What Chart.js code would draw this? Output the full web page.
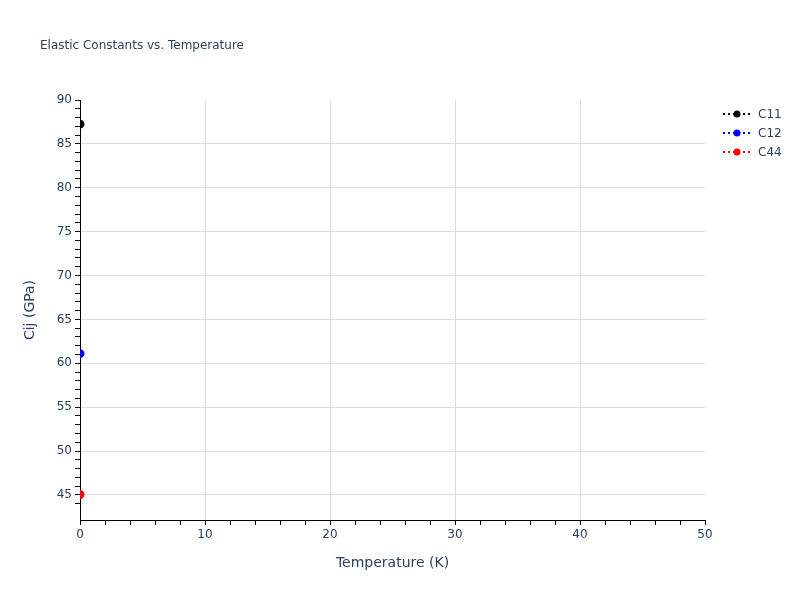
<!DOCTYPE html>
<html lang="en">

<head>
    <meta charset="UTF-8">
    <title>Elastic Constants vs. Temperature</title>
    <script src="https://cdn.jsdelivr.net/npm/chart.js"></script>
    <style>
        html, body { margin: 0; padding: 0; background: #fff; }
        #wrap { width: 800px; height: 600px; }
    </style>
</head>

<body>
    <div id="wrap"><canvas id="elasticChart" width="800" height="600"></canvas></div>
</body>
<script>
    // data
    const temperature = [0];
    const c11 = [87.25];
    const c12 = [61.1];
    const c44 = [45.05];
    const seriesNames = ['C11', 'C12', 'C44'];
    const seriesColors = ['#000000', '#0000ff', '#ff0000'];
    const xTicksMajor = [0, 10, 20, 30, 40, 50];
    const yTicksMajor = [45, 50, 55, 60, 65, 70, 75, 80, 85, 90];

    const textColor = '#2a3f5f';
    const fontFamily = '"DejaVu Sans", verdana, arial, sans-serif';

    const makePoints = (ys) => temperature.map((t, i) => ({ x: t, y: ys[i] }));

    // title + legend drawn like plotly does it
    const extrasPlugin = {
        id: 'extras',
        afterDraw(chart) {
            const ctx = chart.ctx;
            ctx.save();
            ctx.fillStyle = textColor;
            ctx.font = '12px ' + fontFamily;
            ctx.textBaseline = 'middle';
            ctx.textAlign = 'left';
            ctx.fillText('Elastic Constants vs. Temperature', 40, 46);

            chart.data.datasets.forEach((ds, i) => {
                const y = 114 + i * 19;
                ctx.strokeStyle = ds.borderColor;
                ctx.lineWidth = 2;
                ctx.setLineDash([2, 3]);
                ctx.beginPath();
                ctx.moveTo(723, y);
                ctx.lineTo(752, y);
                ctx.stroke();
                ctx.setLineDash([]);
                ctx.fillStyle = ds.backgroundColor;
                ctx.beginPath();
                ctx.arc(737, y, 3.5, 0, Math.PI * 2);
                ctx.fill();
                ctx.fillStyle = textColor;
                ctx.fillText(ds.label, 758, y + 1);
            });
            ctx.restore();
        }
    };

    const gridColor = (majors, hide) => (c) => {
        const v = c.tick ? c.tick.value : null;
        if (v === null || hide.includes(v)) return 'rgba(0,0,0,0)';
        return majors.includes(v) ? '#dddddd' : 'rgba(0,0,0,0)';
    };

    const datasets = [c11, c12, c44].map((vals, i) => ({
        label: seriesNames[i],
        data: makePoints(vals),
        borderColor: seriesColors[i],
        backgroundColor: seriesColors[i],
        borderDash: [2, 3],
        borderWidth: 2,
        pointRadius: 3.5,
        pointHoverRadius: 3.5,
        showLine: true,
        clip: { left: 0, top: 5, right: 5, bottom: 5 }
    }));

    new Chart(document.getElementById('elasticChart'), {
        type: 'scatter',
        data: { datasets: datasets },
        plugins: [extrasPlugin],
        options: {
            responsive: false,
            animation: false,
            layout: { padding: { top: 100, right: 95, left: 0, bottom: 0 } },
            plugins: {
                legend: { display: false },
                title: { display: false },
                tooltip: { enabled: false }
            },
            scales: {
                x: {
                    type: 'linear',
                    min: 0,
                    max: 50,
                    afterFit: (s) => { s.height = 80; },
                    afterBuildTicks: (s) => { s.ticks = s.ticks.filter(t => Number.isInteger(t.value)); },
                    ticks: {
                        stepSize: 2,
                        autoSkip: false,
                        maxRotation: 0,
                        padding: 3,
                        color: textColor,
                        font: { family: fontFamily, size: 12 },
                        callback: (v) => xTicksMajor.includes(v) ? String(v) : ''
                    },
                    grid: {
                        color: gridColor(xTicksMajor, [0, 50]),
                        tickColor: '#000',
                        tickLength: 5,
                        lineWidth: 1
                    },
                    border: { color: '#000', width: 1 },
                    title: {
                        display: true,
                        text: 'Temperature (K)',
                        color: textColor,
                        font: { family: fontFamily, size: 14 },
                        padding: { top: 28, bottom: 28 }
                    }
                },
                y: {
                    type: 'linear',
                    min: 42.15,
                    max: 90,
                    afterFit: (s) => { s.width = 80; },
                    afterBuildTicks: (s) => { s.ticks = s.ticks.filter(t => Number.isInteger(t.value)); },
                    ticks: {
                        stepSize: 1,
                        autoSkip: false,
                        padding: 3,
                        color: textColor,
                        font: { family: fontFamily, size: 12 },
                        callback: (v) => yTicksMajor.includes(v) ? String(v) : ''
                    },
                    grid: {
                        color: gridColor(yTicksMajor, [90]),
                        tickColor: '#000',
                        tickLength: 5,
                        lineWidth: 1
                    },
                    border: { color: '#000', width: 1 },
                    title: {
                        display: true,
                        text: 'Cij (GPa)',
                        color: textColor,
                        font: { family: fontFamily, size: 14 },
                        padding: { top: 22, bottom: 22 }
                    }
                }
            }
        }
    });
</script>

</html>
